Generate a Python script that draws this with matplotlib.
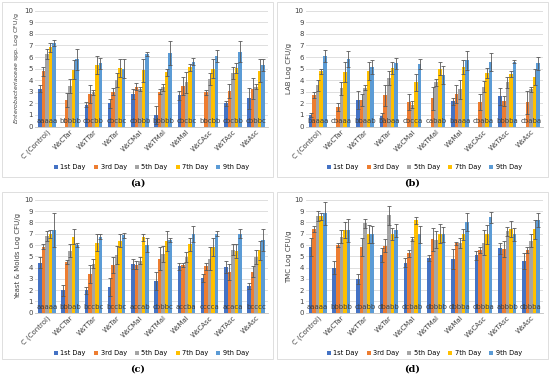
import numpy as np
import matplotlib
matplotlib.use("Agg")
import matplotlib.pyplot as plt
from matplotlib.patches import Rectangle

groups = ["C (Control)", "WsCTar", "WsTTar", "WsTar", "WsCMal", "WsTMal",
          "WsMal", "WsCAsc", "WsTAsc", "WsAsc"]
days = ["1st Day", "3rd Day", "5th Day", "7th Day", "9th Day"]
colors = ["#4472C4", "#ED7D31", "#A5A5A5", "#FFC000", "#5B9BD5"]

# (a) Enterobacteriaceae, rows = groups, cols = days
entero = [[3.25, 4.75, 6.25, 6.85, 7.2], [0, 2.3, 3.5, 4.9, 5.8],
          [1.9, 2.8, 2.95, 5.3, 5.45], [2.0, 3.0, 4.0, 5.05, 5.0],
          [2.8, 3.45, 3.25, 4.85, 6.25], [1.0, 3.0, 3.4, 4.7, 6.35],
          [2.7, 3.5, 3.8, 5.1, 5.6], [0, 2.95, 4.1, 5.0, 6.1],
          [2.0, 3.1, 4.6, 5.05, 6.45], [2.45, 3.25, 3.45, 4.8, 5.3]]
entero_err = [[0.3, 0.4, 0.4, 0.4, 0.25], [0, 0.6, 0.6, 0.8, 0.9],
              [0.2, 0.8, 0.2, 0.8, 0.5], [0.4, 0.3, 0.6, 0.8, 0.8],
              [0.4, 0.3, 0.2, 1.0, 0.2], [0.8, 0.2, 0.3, 0.3, 1.0],
              [0.4, 0.8, 0.9, 0.3, 0.3], [0, 0.2, 0.5, 0.85, 0.5],
              [0.2, 0.6, 0.5, 0.45, 0.9], [0.9, 0.9, 0.2, 1.0, 0.5]]
entero_letters = ["aaaaa", "bbbbb", "cbcbb", "cbcbc", "cbbbb", "bbbbb",
                  "cbcbc", "bbcbb", "cbcbb", "cbbbc"]

# (b) LAB
lab = [[1.0, 2.7, 3.55, 4.75, 6.1], [0, 1.7, 3.3, 4.7, 5.85],
       [2.3, 2.3, 3.35, 4.8, 5.15], [0.95, 2.7, 4.15, 5.05, 5.45],
       [0, 2.15, 1.9, 3.8, 5.4], [0, 2.45, 3.8, 5.0, 4.45],
       [2.2, 2.8, 3.2, 5.1, 5.7], [0, 2.1, 3.45, 4.6, 5.55],
       [2.6, 2.2, 3.8, 4.5, 5.6], [0, 2.1, 3.2, 4.3, 5.45]]
lab_err = [[0.2, 0.25, 0.45, 0.25, 0.5], [0, 0.35, 0.55, 0.9, 0.7],
           [0.8, 0.5, 0.2, 0.8, 0.6], [0.2, 0.9, 0.6, 0.5, 0.5],
           [0, 0.7, 0.3, 0.7, 0.4], [0, 1.0, 0.3, 0.55, 0.8],
           [0.3, 0.8, 0.85, 0.6, 0.85], [0, 0.7, 0.45, 0.45, 0.8],
           [0.7, 0.4, 0.5, 0.25, 0.15], [0, 1.0, 0.2, 0.7, 0.55]]
lab_letters = ["baaaa", "cbaaa", "bbaab", "babaa", "cbcca", "cabab",
               "baaaa", "cbaba", "bbbba", "cbaba"]

# (c) Yeast & Molds
yeast = [[4.45, 5.85, 6.8, 7.0, 7.35], [2.0, 4.5, 5.5, 6.75, 6.0],
         [2.0, 3.45, 4.35, 6.2, 6.75], [2.3, 4.2, 5.1, 6.4, 6.85],
         [4.3, 4.2, 4.6, 6.7, 6.0], [2.85, 4.8, 5.2, 6.35, 6.45],
         [4.1, 4.25, 4.95, 6.05, 7.0], [3.05, 4.1, 4.8, 5.8, 7.0],
         [4.05, 3.6, 5.6, 5.45, 7.0], [2.35, 3.65, 4.95, 5.55, 6.45]]
yeast_err = [[0.5, 0.2, 0.4, 0.35, 1.5], [0.5, 0.15, 0.6, 0.7, 0.15],
             [0.3, 0.8, 0.4, 0.75, 0.25], [0.8, 0.7, 0.8, 0.55, 0.2],
             [0.45, 0.35, 0.3, 0.3, 0.6], [0.8, 1.0, 0.7, 0.9, 0.2],
             [0.35, 0.2, 0.45, 0.55, 0.7], [0.35, 0.3, 1.0, 0.8, 0.2],
             [0.55, 0.7, 0.5, 0.6, 0.4], [0.25, 0.45, 0.6, 0.85, 1.0]]
yeast_letters = ["aaaaa", "bbbab", "bccbc", "bccbc", "accab", "cbbbc",
                 "accba", "cccca", "acaca", "bcccc"]

# (d) TMC
tmc = [[5.8, 7.4, 8.6, 8.55, 8.8], [4.0, 6.0, 6.75, 7.35, 7.3],
       [3.0, 5.8, 7.95, 6.95, 6.95], [5.1, 5.95, 8.65, 7.0, 7.3],
       [4.45, 5.25, 6.55, 8.2, 6.95], [4.85, 6.5, 6.45, 7.0, 6.95],
       [4.75, 6.15, 6.2, 6.95, 8.05], [5.1, 5.55, 6.2, 6.95, 8.45],
       [5.7, 5.65, 7.2, 7.45, 6.95], [4.55, 5.55, 6.4, 7.4, 8.2]]
tmc_err = [[0.8, 0.25, 0.45, 0.3, 1.05], [0.55, 0.2, 0.6, 0.7, 1.0],
           [0.45, 0.8, 0.4, 0.8, 0.75], [0.6, 0.6, 0.85, 0.55, 0.55],
           [0.4, 0.3, 0.15, 0.3, 0.75], [0.3, 1.0, 0.75, 0.85, 0.65],
           [0.9, 0.15, 0.45, 0.5, 0.8], [0.4, 0.3, 1.1, 0.85, 0.5],
           [0.5, 0.75, 0.4, 0.7, 0.55], [0.7, 0.3, 0.6, 0.85, 0.6]]
tmc_letters = ["aaaaa", "bbbbb", "cbabb", "dbabb", "dcbab", "dbbbb",
               "dbbba", "dbbba", "abbbb", "dbbba"]


def panel(fig, rect, vals, errs, letters, ylabel, tag, legend_y, tag_y, box,
          ylabel_size=5):
    ax = fig.add_axes(rect)
    vals = np.array(vals)
    errs = np.array(errs)
    x = np.arange(len(groups))
    w = 0.15
    for j in range(len(days)):
        pos = x + (j - 2) * w
        ax.bar(pos, vals[:, j], w, color=colors[j], label=days[j], zorder=2)
        m = vals[:, j] > 0
        ax.errorbar(pos[m], vals[m, j], yerr=errs[m, j], fmt="none",
                    ecolor="#595959", elinewidth=0.6, capsize=1.3,
                    capthick=0.6, zorder=3)
    for i, s in enumerate(letters):
        ax.text(x[i], 0.5, s, ha="center", va="center", fontsize=5,
                color="#404040", zorder=4)
    ax.set_ylim(0, 10)
    ax.set_xlim(-0.5, len(groups) - 0.5)
    ax.set_yticks(range(11))
    ax.grid(axis="y", color="#D9D9D9", linewidth=0.6, zorder=0)
    ax.set_axisbelow(True)
    for sp in ["top", "right", "left"]:
        ax.spines[sp].set_visible(False)
    ax.spines["bottom"].set_color("#BFBFBF")
    ax.spines["bottom"].set_linewidth(0.6)
    ax.tick_params(axis="both", length=0, labelsize=5, colors="#404040", pad=1.5)
    ax.set_xticks(x)
    ax.set_xticklabels(groups, rotation=45, ha="right", rotation_mode="anchor")
    ax.set_ylabel(ylabel, fontsize=ylabel_size, color="#404040", labelpad=2)
    cx = rect[0] + rect[2] / 2
    fig.legend(*ax.get_legend_handles_labels(), loc="center",
               bbox_to_anchor=(cx, legend_y), ncol=5, fontsize=4.8,
               frameon=False, handlelength=0.6, handleheight=0.6,
               columnspacing=1.2, handletextpad=0.4)
    fig.text(box[0] + box[2] / 2, tag_y, tag, ha="center", va="center",
             fontsize=7, fontweight="bold", family="DejaVu Serif")
    fig.patches.append(Rectangle((box[0], box[1]), box[2], box[3],
                                 transform=fig.transFigure, fill=False,
                                 edgecolor="#D9D9D9", linewidth=0.6))


def main():
    fig = plt.figure(figsize=(5.5, 3.8), dpi=100)
    panel(fig, [0.064, 0.667, 0.423, 0.305], entero, entero_err, entero_letters,
          r"$\it{Enterobacteriaceae}$ spp. Log CFU/g", "(a)", 0.56, 0.518,
          [0.003, 0.535, 0.494, 0.46], ylabel_size=4.5)
    panel(fig, [0.556, 0.667, 0.431, 0.305], lab, lab_err, lab_letters,
          "LAB Log CFU/g", "(b)", 0.56, 0.518,
          [0.503, 0.535, 0.494, 0.46])
    panel(fig, [0.064, 0.177, 0.423, 0.297], yeast, yeast_err, yeast_letters,
          "Yeast & Molds Log CFU/g", "(c)", 0.071, 0.03,
          [0.003, 0.055, 0.494, 0.44])
    panel(fig, [0.556, 0.177, 0.431, 0.297], tmc, tmc_err, tmc_letters,
          "TMC Log CFU/g", "(d)", 0.071, 0.03,
          [0.503, 0.055, 0.494, 0.44])
    fig.savefig("out.png", dpi=100)


if __name__ == "__main__":
    main()
